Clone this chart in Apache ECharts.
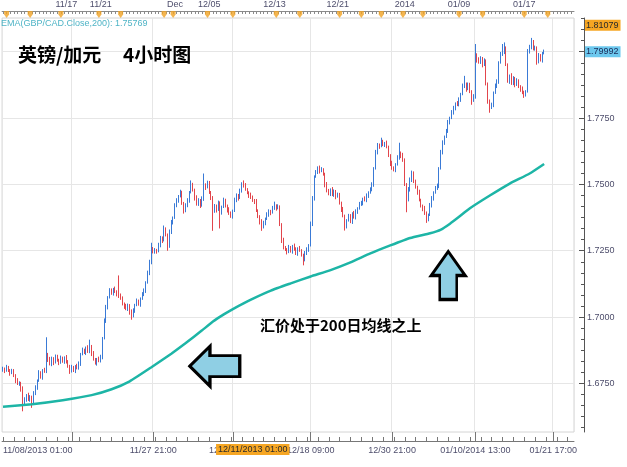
<!DOCTYPE html>
<html><head><meta charset="utf-8">
<script src="https://cdn.jsdelivr.net/npm/echarts@6/dist/echarts.min.js"></script>
<style>html,body{margin:0;padding:0;background:#fff}#c{width:627px;height:467px}</style>
</head><body><div id="c"></div><script>
// ---- data ----
const titleText = '英镑/加元     4小时图';
const noteText = '汇价处于200日均线之上';
const emaName = 'EMA(GBP/CAD.Close,200)';
// [open, close, low, high] per 4h candle, starting 11/08/2013 01:00
const candles = [
[1.6800,1.6805,1.6794,1.6813],[1.6805,1.6798,1.6789,1.6810],[1.6798,1.6810,1.6794,1.6820],[1.6810,1.6800,1.6793,1.6816],[1.6800,1.6790,1.6779,1.6804],[1.6790,1.6796,1.6785,1.6805],
[1.6796,1.6780,1.6774,1.6804],[1.6780,1.6760,1.6751,1.6785],[1.6760,1.6748,1.6744,1.6770],[1.6748,1.6752,1.6741,1.6758],[1.6752,1.6730,1.6719,1.6756],[1.6730,1.6672,1.6645,1.6739],
[1.6672,1.6690,1.6666,1.6698],[1.6690,1.6705,1.6681,1.6710],[1.6705,1.6688,1.6684,1.6715],[1.6688,1.6700,1.6681,1.6706],[1.6700,1.6675,1.6658,1.6704],[1.6675,1.6712,1.6670,1.6721],
[1.6712,1.6735,1.6706,1.6743],[1.6735,1.6760,1.6726,1.6765],[1.6760,1.6790,1.6756,1.6800],[1.6790,1.6775,1.6768,1.6796],[1.6775,1.6800,1.6764,1.6804],[1.6800,1.6795,1.6790,1.6809],
[1.6795,1.6860,1.6789,1.6924],[1.6860,1.6840,1.6831,1.6865],[1.6840,1.6822,1.6818,1.6850],[1.6822,1.6845,1.6815,1.6851],[1.6845,1.6830,1.6819,1.6849],[1.6830,1.6850,1.6825,1.6859],
[1.6850,1.6838,1.6832,1.6858],[1.6838,1.6828,1.6819,1.6843],[1.6828,1.6845,1.6824,1.6855],[1.6845,1.6835,1.6828,1.6851],[1.6835,1.6848,1.6824,1.6852],[1.6848,1.6830,1.6825,1.6857],
[1.6830,1.6815,1.6809,1.6838],[1.6815,1.6795,1.6786,1.6820],[1.6795,1.6810,1.6791,1.6820],[1.6810,1.6800,1.6793,1.6816],[1.6800,1.6815,1.6789,1.6819],[1.6815,1.6808,1.6803,1.6824],
[1.6808,1.6825,1.6802,1.6833],[1.6825,1.6860,1.6816,1.6865],[1.6860,1.6875,1.6856,1.6885],[1.6875,1.6868,1.6861,1.6881],[1.6868,1.6885,1.6857,1.6889],[1.6885,1.6870,1.6865,1.6894],
[1.6870,1.6890,1.6864,1.6915],[1.6890,1.6862,1.6853,1.6895],[1.6862,1.6840,1.6836,1.6872],[1.6840,1.6828,1.6821,1.6846],[1.6828,1.6842,1.6817,1.6846],[1.6842,1.6835,1.6830,1.6851],
[1.6835,1.6850,1.6829,1.6858],[1.6850,1.6920,1.6841,1.6925],[1.6920,1.6985,1.6916,1.6995],[1.6985,1.7040,1.6978,1.7046],[1.7040,1.7075,1.7029,1.7079],[1.7075,1.7100,1.7070,1.7109],
[1.7100,1.7090,1.7084,1.7108],[1.7090,1.7105,1.7081,1.7110],[1.7105,1.7095,1.7091,1.7115],[1.7095,1.7085,1.7078,1.7101],[1.7085,1.7080,1.7072,1.7157],[1.7080,1.7070,1.7065,1.7089],
[1.7070,1.7050,1.7044,1.7078],[1.7050,1.7040,1.7031,1.7055],[1.7040,1.7030,1.7026,1.7050],[1.7030,1.7045,1.7023,1.7051],[1.7045,1.7020,1.7009,1.7049],[1.7020,1.7005,1.6990,1.7029],
[1.7005,1.7025,1.6999,1.7033],[1.7025,1.7045,1.7016,1.7050],[1.7045,1.7060,1.7041,1.7070],[1.7060,1.7050,1.7043,1.7066],[1.7050,1.7070,1.7039,1.7074],[1.7070,1.7085,1.7065,1.7094],
[1.7085,1.7100,1.7079,1.7108],[1.7100,1.7130,1.7091,1.7135],[1.7130,1.7165,1.7126,1.7175],[1.7165,1.7210,1.7158,1.7216],[1.7210,1.7255,1.7199,1.7280],[1.7255,1.7245,1.7240,1.7264],
[1.7245,1.7252,1.7239,1.7260],[1.7252,1.7248,1.7239,1.7257],[1.7248,1.7270,1.7244,1.7280],[1.7270,1.7300,1.7263,1.7306],[1.7300,1.7290,1.7279,1.7304],[1.7290,1.7330,1.7285,1.7345],
[1.7330,1.7310,1.7304,1.7338],[1.7310,1.7265,1.7250,1.7315],[1.7265,1.7320,1.7261,1.7330],[1.7320,1.7360,1.7313,1.7366],[1.7360,1.7375,1.7349,1.7379],[1.7375,1.7420,1.7370,1.7429],
[1.7420,1.7440,1.7414,1.7448],[1.7440,1.7455,1.7431,1.7460],[1.7455,1.7470,1.7451,1.7480],[1.7470,1.7430,1.7423,1.7476],[1.7430,1.7400,1.7390,1.7434],[1.7400,1.7420,1.7395,1.7429],
[1.7420,1.7440,1.7414,1.7448],[1.7440,1.7470,1.7431,1.7475],[1.7470,1.7500,1.7466,1.7515],[1.7500,1.7480,1.7473,1.7506],[1.7480,1.7450,1.7439,1.7484],[1.7450,1.7425,1.7420,1.7459],
[1.7425,1.7440,1.7419,1.7448],[1.7440,1.7420,1.7411,1.7445],[1.7420,1.7445,1.7416,1.7455],[1.7445,1.7500,1.7438,1.7541],[1.7500,1.7490,1.7479,1.7504],[1.7490,1.7505,1.7485,1.7514],
[1.7505,1.7470,1.7464,1.7513],[1.7470,1.7450,1.7441,1.7475],[1.7450,1.7400,1.7325,1.7456],[1.7400,1.7420,1.7393,1.7426],[1.7420,1.7405,1.7394,1.7424],[1.7405,1.7430,1.7400,1.7439],
[1.7430,1.7395,1.7334,1.7436],[1.7395,1.7415,1.7386,1.7420],[1.7415,1.7440,1.7411,1.7450],[1.7440,1.7420,1.7413,1.7446],[1.7420,1.7405,1.7394,1.7424],[1.7405,1.7390,1.7385,1.7414],
[1.7390,1.7380,1.7374,1.7398],[1.7380,1.7400,1.7371,1.7405],[1.7400,1.7440,1.7396,1.7450],[1.7440,1.7460,1.7433,1.7466],[1.7460,1.7450,1.7439,1.7464],[1.7450,1.7475,1.7445,1.7484],
[1.7475,1.7500,1.7469,1.7508],[1.7500,1.7495,1.7488,1.7515],[1.7495,1.7480,1.7476,1.7505],[1.7480,1.7470,1.7463,1.7486],[1.7470,1.7460,1.7449,1.7474],[1.7460,1.7450,1.7445,1.7469],
[1.7450,1.7440,1.7434,1.7458],[1.7440,1.7435,1.7426,1.7445],[1.7435,1.7400,1.7396,1.7445],[1.7400,1.7380,1.7373,1.7406],[1.7380,1.7360,1.7349,1.7384],[1.7360,1.7340,1.7325,1.7369],
[1.7340,1.7355,1.7334,1.7363],[1.7355,1.7370,1.7346,1.7375],[1.7370,1.7385,1.7366,1.7395],[1.7385,1.7400,1.7378,1.7406],[1.7400,1.7395,1.7384,1.7404],[1.7395,1.7410,1.7390,1.7419],
[1.7410,1.7420,1.7404,1.7435],[1.7420,1.7410,1.7401,1.7425],[1.7410,1.7415,1.7406,1.7425],[1.7415,1.7350,1.7343,1.7421],[1.7350,1.7290,1.7279,1.7354],[1.7290,1.7260,1.7255,1.7299],
[1.7260,1.7255,1.7249,1.7268],[1.7255,1.7245,1.7236,1.7260],[1.7245,1.7262,1.7241,1.7272],[1.7262,1.7250,1.7243,1.7268],[1.7250,1.7268,1.7239,1.7272],[1.7268,1.7255,1.7250,1.7277],
[1.7255,1.7240,1.7234,1.7263],[1.7240,1.7258,1.7231,1.7263],[1.7258,1.7250,1.7246,1.7268],[1.7250,1.7235,1.7228,1.7256],[1.7235,1.7215,1.7195,1.7239],[1.7215,1.7240,1.7210,1.7249],
[1.7240,1.7255,1.7234,1.7263],[1.7255,1.7270,1.7246,1.7275],[1.7270,1.7350,1.7266,1.7360],[1.7350,1.7450,1.7343,1.7456],[1.7450,1.7530,1.7439,1.7534],[1.7530,1.7545,1.7525,1.7554],
[1.7545,1.7560,1.7539,1.7568],[1.7560,1.7550,1.7541,1.7571],[1.7550,1.7555,1.7546,1.7565],[1.7555,1.7540,1.7533,1.7561],[1.7540,1.7500,1.7489,1.7544],[1.7500,1.7475,1.7470,1.7509],
[1.7475,1.7465,1.7459,1.7483],[1.7465,1.7480,1.7456,1.7485],[1.7480,1.7460,1.7456,1.7490],[1.7460,1.7475,1.7453,1.7481],[1.7475,1.7455,1.7444,1.7479],[1.7455,1.7460,1.7450,1.7469],
[1.7460,1.7430,1.7424,1.7468],[1.7430,1.7405,1.7396,1.7435],[1.7405,1.7380,1.7376,1.7415],[1.7380,1.7345,1.7326,1.7386],[1.7345,1.7365,1.7334,1.7369],[1.7365,1.7380,1.7360,1.7389],
[1.7380,1.7360,1.7354,1.7388],[1.7360,1.7390,1.7351,1.7395],[1.7390,1.7375,1.7371,1.7400],[1.7375,1.7400,1.7368,1.7406],[1.7400,1.7410,1.7389,1.7414],[1.7410,1.7425,1.7405,1.7434],
[1.7425,1.7430,1.7419,1.7438],[1.7430,1.7445,1.7421,1.7450],[1.7445,1.7440,1.7436,1.7455],[1.7440,1.7460,1.7433,1.7466],[1.7460,1.7470,1.7449,1.7474],[1.7470,1.7480,1.7465,1.7489],
[1.7480,1.7500,1.7474,1.7508],[1.7500,1.7560,1.7491,1.7565],[1.7560,1.7620,1.7556,1.7630],[1.7620,1.7650,1.7613,1.7656],[1.7650,1.7645,1.7634,1.7654],[1.7645,1.7660,1.7640,1.7676],
[1.7660,1.7650,1.7644,1.7668],[1.7650,1.7655,1.7641,1.7660],[1.7655,1.7640,1.7636,1.7665],[1.7640,1.7610,1.7603,1.7646],[1.7610,1.7580,1.7569,1.7614],[1.7580,1.7560,1.7555,1.7589],
[1.7560,1.7555,1.7549,1.7568],[1.7555,1.7575,1.7546,1.7580],[1.7575,1.7600,1.7571,1.7610],[1.7600,1.7620,1.7593,1.7657],[1.7620,1.7610,1.7599,1.7624],[1.7610,1.7590,1.7585,1.7619],
[1.7590,1.7500,1.7494,1.7598],[1.7500,1.7440,1.7395,1.7505],[1.7440,1.7480,1.7436,1.7490],[1.7480,1.7520,1.7473,1.7526],[1.7520,1.7540,1.7509,1.7552],[1.7540,1.7510,1.7505,1.7549],
[1.7510,1.7490,1.7484,1.7518],[1.7490,1.7470,1.7461,1.7495],[1.7470,1.7440,1.7436,1.7480],[1.7440,1.7420,1.7413,1.7446],[1.7420,1.7410,1.7399,1.7424],[1.7410,1.7390,1.7385,1.7419],
[1.7390,1.7370,1.7355,1.7398],[1.7370,1.7385,1.7361,1.7390],[1.7385,1.7420,1.7381,1.7430],[1.7420,1.7450,1.7413,1.7456],[1.7450,1.7470,1.7439,1.7474],[1.7470,1.7485,1.7465,1.7494],
[1.7485,1.7495,1.7479,1.7503],[1.7495,1.7560,1.7486,1.7565],[1.7560,1.7620,1.7556,1.7630],[1.7620,1.7660,1.7613,1.7666],[1.7660,1.7680,1.7649,1.7684],[1.7680,1.7700,1.7675,1.7709],
[1.7700,1.7735,1.7694,1.7743],[1.7735,1.7750,1.7726,1.7755],[1.7750,1.7770,1.7746,1.7780],[1.7770,1.7790,1.7763,1.7796],[1.7790,1.7805,1.7779,1.7809],[1.7805,1.7800,1.7795,1.7814],
[1.7800,1.7820,1.7794,1.7828],[1.7820,1.7840,1.7811,1.7845],[1.7840,1.7870,1.7836,1.7880],[1.7870,1.7880,1.7863,1.7909],[1.7880,1.7860,1.7849,1.7884],[1.7860,1.7875,1.7855,1.7884],
[1.7875,1.7850,1.7844,1.7883],[1.7850,1.7815,1.7800,1.7855],[1.7815,1.7830,1.7811,1.7840],[1.7830,1.7990,1.7823,1.8029],[1.7990,1.7970,1.7959,1.7994],[1.7970,1.7960,1.7955,1.7979],
[1.7960,1.7975,1.7954,1.7983],[1.7975,1.7950,1.7941,1.7980],[1.7950,1.7965,1.7946,1.7975],[1.7965,1.7880,1.7873,1.7971],[1.7880,1.7815,1.7804,1.7884],[1.7815,1.7790,1.7770,1.7820],
[1.7790,1.7800,1.7784,1.7808],[1.7800,1.7845,1.7791,1.7850],[1.7845,1.7870,1.7841,1.7880],[1.7870,1.7890,1.7863,1.7896],[1.7890,1.7960,1.7879,1.7964],[1.7960,1.7990,1.7955,1.7999],
[1.7990,1.8000,1.7984,1.8029],[1.8000,1.8010,1.7991,1.8035],[1.8010,1.7950,1.7946,1.8020],[1.7950,1.7890,1.7883,1.7956],[1.7890,1.7910,1.7879,1.7914],[1.7910,1.7880,1.7875,1.7919],
[1.7880,1.7900,1.7874,1.7908],[1.7900,1.7875,1.7866,1.7905],[1.7875,1.7890,1.7871,1.7900],[1.7890,1.7870,1.7863,1.7896],[1.7870,1.7860,1.7849,1.7874],[1.7860,1.7845,1.7840,1.7869],
[1.7845,1.7840,1.7826,1.7853],[1.7840,1.7850,1.7831,1.7855],[1.7850,1.8000,1.7846,1.8010],[1.8000,1.8020,1.7993,1.8026],[1.8020,1.8035,1.8009,1.8052],[1.8035,1.8010,1.8005,1.8044],
[1.8010,1.8015,1.8004,1.8023],[1.8015,1.7960,1.7951,1.8020],[1.7960,1.7985,1.7956,1.7995],[1.7985,1.7970,1.7963,1.7991],[1.7970,1.7995,1.7959,1.7999],[1.7995,1.79992,1.7990,1.8008]
];
// EMA(200): [candle index, value]
const ema = [[0,1.6662],[16,1.6672],[33,1.6687],[49,1.6706],[60,1.6728],[70,1.6758],[82,1.6811],[93,1.6862],[101,1.6902],[110,1.6950],[116,1.6983],[122,1.7010],[128,1.7034],[137,1.7066],[148,1.7100],[159,1.7127],[170,1.7153],[181,1.7177],[192,1.7206],[203,1.7240],[214,1.7270],[225,1.7298],[236,1.7316],[242,1.7330],[247,1.7352],[252,1.7378],[258,1.7410],[269,1.7458],[280,1.7503],[291,1.7541],[299,1.75769]];
const emaLast = 1.75769;
const highMark = 1.81079;
const lastClose = 1.79992;
const crossTime = '2013-12-11 01:00';
const crossLabel = '12/11/2013 01:00';
const yMin = 1.6567, yMax = 1.8127;
const yMajor = [1.675, 1.700, 1.725, 1.750, 1.775, 1.800];
const yLabelValues = [1.675, 1.700, 1.725, 1.750, 1.775];
const bottomLabels = {'2013-11-08 01:00':'11/08/2013 01:00','2013-11-27 21:00':'11/27 21:00','2013-12-09 05:00':'12/09 05:00','2013-12-18 09:00':'12/18 09:00','2013-12-30 21:00':'12/30 21:00','2014-01-10 13:00':'01/10/2014 13:00','2014-01-21 17:00':'01/21 17:00'};
const bottomMajor = ['2013-11-18 09:00','2013-11-27 21:00','2013-12-09 05:00','2013-12-18 09:00','2013-12-30 21:00','2014-01-10 13:00','2014-01-21 17:00'];
const topLabels = {'2013-11-17 21:00':'11/17','2013-11-21 01:00':'11/21','2013-12-01 21:00':'Dec','2013-12-05 01:00':'12/05','2013-12-13 01:00':'12/13','2013-12-22 21:00':'12/21','2014-01-02 01:00':'2014','2014-01-09 01:00':'01/09','2014-01-17 01:00':'01/17'};
const topMarks = ['2013-11-08 09:00','2013-11-12 13:00','2013-11-15 09:00','2013-11-20 21:00','2013-11-24 21:00','2013-11-28 21:00','2013-11-29 17:00','2013-12-04 21:00','2013-12-09 05:00','2013-12-13 05:00','2013-12-17 09:00','2013-12-23 01:00','2013-12-26 01:00','2013-12-29 21:00','2013-12-31 21:00','2014-01-03 17:00','2014-01-09 01:00','2014-01-13 05:00','2014-01-17 01:00','2014-01-21 05:00'];
const arrowLeft = {at:'2013-12-05 13:00', value:1.6815};
const arrowUp = {at:'2014-01-08 01:00', value:1.7157};
const N_CATS = 316;

// 4h session calendar (forex week: Sun 21:00 .. Fri 17:00; 12/25 and 01/01 closed)
function buildCategories(n){
  const out=[]; const hours=[1,5,9,13,17,21];
  const closed={'2013-12-25':1,'2014-01-01':1};
  let t=Date.UTC(2013,10,8);
  while(out.length<n){
    const d=new Date(t); const dow=d.getUTCDay(); const key=d.toISOString().slice(0,10);
    let hs=[];
    if(!closed[key]){
      if(dow>=1&&dow<=4) hs=hours; else if(dow===5) hs=[1,5,9,13,17]; else if(dow===0) hs=[21];
    }
    hs.forEach(h=>{ if(out.length<n) out.push(key+' '+String(h).padStart(2,'0')+':00'); });
    t+=86400000;
  }
  return out;
}
const categories = buildCategories(N_CATS);
const majorSet = new Set(bottomMajor);
const minorY = [];
(function(){const step=0.025/6; for(let k=-5;k<=40;k++){const v=+(1.675+k*step).toFixed(6); if(v>yMin&&v<yMax) minorY.push(v);}})();

const font = 'Liberation Sans';
const labelColor = '#4e4e6c';
const chart = echarts.init(document.getElementById('c'));
chart.setOption({
  animation:false,
  backgroundColor:'#fff',
  title:[
    {text:titleText, left:18, top:45, padding:0, textStyle:{fontFamily:'Noto Sans CJK SC', fontSize:19, fontWeight:'bold', color:'#000'}},
    {text:emaName+': '+emaLast, left:1, top:19, padding:0, textStyle:{fontFamily:font, fontSize:9, fontWeight:'normal', color:'#4fb4c6'}},
    {text:noteText, left:260, top:318, padding:0, textStyle:{fontFamily:'Noto Sans CJK SC', fontSize:15, fontWeight:'bold', color:'#000'}}
  ],
  grid:{left:0, right:53, top:17, bottom:35, show:true, borderColor:'#d4d4d4', borderWidth:1},
  xAxis:[
    {type:'category', data:categories, position:'bottom', offset:9, boundaryGap:true,
     axisLine:{show:true, lineStyle:{color:'#777'}},
     axisTick:{show:true, inside:true, length:9, alignWithLabel:true, interval:(i,v)=>majorSet.has(v), lineStyle:{color:'#777'}},
     axisLabel:{show:true, interval:(i,v)=>(v in bottomLabels), formatter:(v)=>bottomLabels[v]||'', fontSize:9, fontFamily:font, color:labelColor, margin:5, alignMinLabel:'left'},
     splitLine:{show:true, interval:(i,v)=>majorSet.has(v), lineStyle:{color:'#e6e6e6'}}},
    {type:'category', data:categories, position:'bottom', offset:9, boundaryGap:true,
     axisLine:{show:false},
     axisTick:{show:true, inside:true, length:4, alignWithLabel:true, interval:(i,v)=>v.endsWith(' 01:00'), lineStyle:{color:'#777'}},
     axisLabel:{show:false}, splitLine:{show:false}},
    {type:'category', data:categories, position:'top', offset:7, boundaryGap:true,
     axisLine:{show:true, lineStyle:{color:'#8a8a8a'}},
     axisTick:{show:true, inside:true, length:3, alignWithLabel:true, interval:(i)=>i%2===0, lineStyle:{color:'#8a8a8a'}},
     axisLabel:{show:true, interval:(i,v)=>(v in topLabels), formatter:(v)=>topLabels[v]||'', fontSize:9, fontFamily:font, color:labelColor, margin:2},
     splitLine:{show:false}}
  ],
  yAxis:[
    {type:'value', position:'right', offset:10, min:yMin, max:yMax,
     axisLine:{show:true, lineStyle:{color:'#555'}},
     axisTick:{show:true, inside:true, length:5, customValues:yMajor, lineStyle:{color:'#555'}},
     axisLabel:{show:true, customValues:yLabelValues, formatter:(v)=>v.toFixed(4), fontSize:9, fontFamily:font, color:labelColor, margin:3},
     splitLine:{show:true, lineStyle:{color:'#e6e6e6'}}},
    {type:'value', position:'right', offset:10, min:yMin, max:yMax,
     axisLine:{show:false},
     axisTick:{show:true, inside:true, length:3, customValues:minorY, lineStyle:{color:'#555'}},
     axisLabel:{show:false}, splitLine:{show:false}}
  ],
  series:[
    {type:'candlestick', name:'GBP/CAD', xAxisIndex:0, yAxisIndex:0, data:candles, barWidth:1,
     itemStyle:{color:'#3a7ad6', color0:'#e2454c', borderColor:'#3a7ad6', borderColor0:'#e2454c', borderWidth:1},
     markLine:{symbol:'none', silent:true, animation:false, lineStyle:{color:'rgba(0,0,0,0)', width:1},
       label:{position:'end', distance:11, fontSize:9, fontFamily:font, padding:[1,2,1,1]},
       data:[
         {yAxis:highMark, label:{formatter:highMark.toFixed(5), backgroundColor:'#f6a623', color:'#2a2a2a'}},
         {yAxis:lastClose, label:{formatter:lastClose.toFixed(5), backgroundColor:'#6cc8ee', color:'#1b2b57'}},
         {xAxis:categories.indexOf(crossTime), label:{position:'start', distance:12, formatter:crossLabel, backgroundColor:'#f6a623', color:'#2a2a2a', padding:[1,2,1,2]}}
       ]}
    },
    {type:'line', name:emaName, xAxisIndex:0, yAxisIndex:0, data:ema, showSymbol:false, smooth:0.15,
     lineStyle:{color:'#1db5a6', width:2.5}, z:3,
     markPoint:{silent:true, animation:false, label:{show:false},
       itemStyle:{color:'#8fcfe4', borderColor:'#000', borderWidth:3},
       data:[
         {coord:[categories.indexOf(arrowLeft.at), arrowLeft.value], symbol:'path://M0 21 L21 0 L21 10 L52 10 L52 32 L21 32 L21 42 Z', symbolSize:[50,40]},
         {coord:[categories.indexOf(arrowUp.at), arrowUp.value], symbol:'path://M18 0 L36 25 L27 25 L27 50 L9 50 L9 25 L0 25 Z', symbolSize:[34,48]}
       ]}
    },
    {type:'scatter', xAxisIndex:2, yAxisIndex:0, silent:true, clip:false,
     data:topMarks.map(t=>[categories.indexOf(t), yMax]),
     symbol:'path://M0 0 L8 0 L8 5 L4 10 L0 5 Z', symbolSize:[5,7], symbolOffset:[0,-3.5],
     itemStyle:{color:'#f0a224'}}
  ]
});
</script></body></html>
